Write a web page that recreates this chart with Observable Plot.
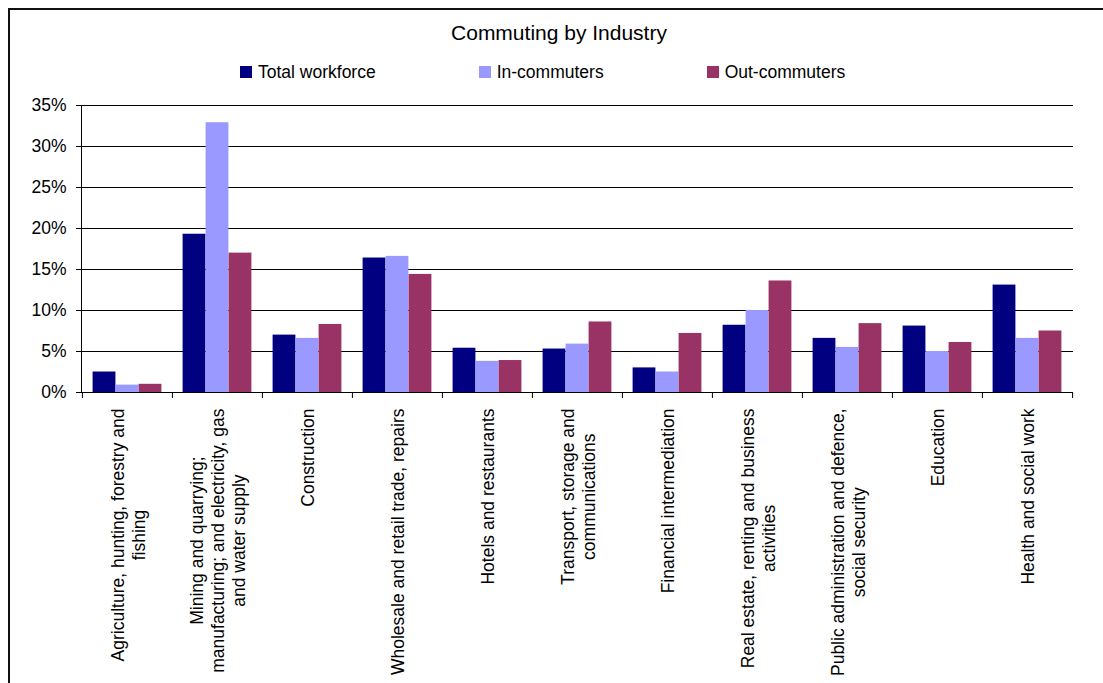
<!DOCTYPE html>
<html>
<head>
<meta charset="utf-8">
<script src="https://cdn.jsdelivr.net/npm/d3@7"></script>
<script src="https://cdn.jsdelivr.net/npm/@observablehq/plot@0.6"></script>
<style>
  html, body { margin: 0; padding: 0; background: #fff; overflow: hidden; }
  body { width: 1103px; height: 683px; position: relative; font-family: "Liberation Sans", Arial, sans-serif; color: #000; }
  #frame { position: absolute; left: 8px; top: 8px; width: 1300px; height: 900px; border-top: 2px solid #111; border-left: 2px solid #111; }
  #title { position: absolute; left: 0; width: 1118px; top: 21px; text-align: center; font-size: 21px; line-height: 24px; }
  #legend { position: absolute; left: 240px; top: 61px; display: flex; gap: 103px; font-size: 17.5px; line-height: 22px; }
  .item { display: flex; align-items: center; }
  .sw { width: 12px; height: 12px; margin-right: 6px; }
  #chart { position: absolute; left: 0; top: 90px; }
</style>
</head>
<body>
<div id="frame"></div>
<div id="title">Commuting by Industry</div>
<div id="legend"></div>
<div id="chart"></div>
<script>
const categories = [
  "Agriculture, hunting, forestry and\nfishing",
  "Mining and quarrying;\nmanufacturing; and electricity, gas\nand water supply",
  "Construction",
  "Wholesale and retail trade, repairs",
  "Hotels and restaurants",
  "Transport, storage and\ncommunications",
  "Financial intermediation",
  "Real estate, renting and business\nactivities",
  "Public administration and defence,\nsocial security",
  "Education",
  "Health and social work"
];
const series = ["Total workforce", "In-commuters", "Out-commuters"];
const colors = ["#000080", "#9999FF", "#993366"];
const totalWorkforce = [2.5, 19.3, 7.0, 16.4, 5.4, 5.3, 3.0, 8.2, 6.6, 8.1, 13.1];
const inCommuters   = [0.9, 32.9, 6.6, 16.6, 3.8, 5.9, 2.5, 10.0, 5.5, 5.0, 6.6];
const outCommuters  = [1.0, 17.0, 8.3, 14.4, 3.9, 8.6, 7.2, 13.6, 8.4, 6.1, 7.5];
const yTicks = [0, 5, 10, 15, 20, 25, 30, 35];

const seriesValues = [totalWorkforce, inCommuters, outCommuters];
const rows = [];
series.forEach((s, si) => categories.forEach((c, ci) => rows.push({category: c, series: s, value: seriesValues[si][ci]})));

// legend
const legend = document.getElementById("legend");
series.forEach((s, i) => {
  const it = document.createElement("div");
  it.className = "item";
  const sw = document.createElement("div");
  sw.className = "sw";
  sw.style.background = colors[i];
  const tx = document.createElement("span");
  tx.textContent = s;
  it.appendChild(sw); it.appendChild(tx);
  legend.appendChild(it);
});

const W = 1103, H = 593, mL = 81, mR = 30, mT = 15, mB = 291;
const fontFamily = '"Liberation Sans", Arial, sans-serif';
const fs = 17.5;
const bw = (W - mL - mR) / categories.length;
const barW = bw * 0.255;

const ctx = document.createElement("canvas").getContext("2d");
ctx.font = `${fs}px "Liberation Sans", Arial, sans-serif`;
const maxW = c => Math.max(...c.split("\n").map(l => ctx.measureText(l).width));

const barMarks = series.map((s, i) => {
  const insetLeft = bw / 2 - 1.5 * barW + i * barW;
  const insetRight = bw - insetLeft - barW;
  return Plot.barY(rows.filter(r => r.series === s), {
    x: "category", y: "value", fill: colors[i], insetLeft, insetRight
  });
});

const labelMarks = categories.map(c => Plot.text([c], {
  x: d => d, text: d => d, frameAnchor: "bottom",
  rotate: -90, textAnchor: "middle", lineAnchor: "middle", lineHeight: 1.2,
  dy: 16 + maxW(c) / 2, fontSize: fs, fill: "#000"
}));

const chart = Plot.plot({
  width: W, height: H,
  marginLeft: mL, marginRight: mR, marginTop: mT, marginBottom: mB,
  style: {fontFamily, fontSize: fs + "px", background: "transparent", color: "#000", overflow: "visible"},
  x: {domain: categories, padding: 0, axis: null},
  y: {domain: [0, 35], axis: null},
  marks: [
    Plot.gridY({ticks: yTicks.filter(d => d > 0), stroke: "#000", strokeOpacity: 1}),
    ...barMarks,
    Plot.frame({anchor: "left", stroke: "#000"}),
    Plot.ruleY([0], {stroke: "#000"}),
    Plot.axisY({ticks: yTicks, tickSize: 5, tickPadding: 10, tickFormat: d => d + "%", label: null, fontSize: fs, stroke: "#000"}),
    Plot.axisX({ticks: categories, tickSize: 6, dx: -bw / 2, tickFormat: () => "", label: null, stroke: "#000"}),
    Plot.axisX({ticks: [categories[categories.length - 1]], tickSize: 6, dx: bw / 2, tickFormat: () => "", label: null, stroke: "#000"}),
    ...labelMarks
  ]
});
document.getElementById("chart").appendChild(chart);
</script>
</body>
</html>
